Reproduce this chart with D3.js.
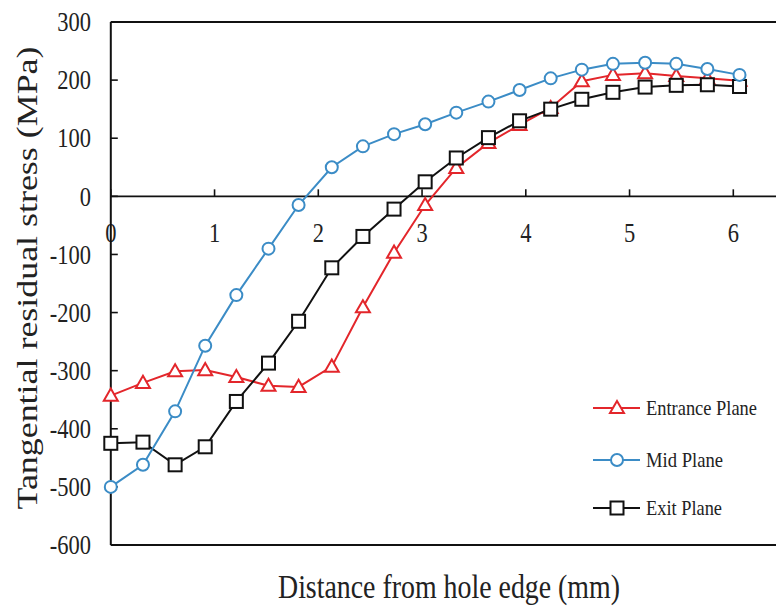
<!DOCTYPE html>
<html>
<head>
<meta charset="utf-8">
<script src="https://cdn.jsdelivr.net/npm/d3@7"></script>
<style>
  body { margin: 0; background: #fff; }
  text { font-family: "Liberation Serif", "DejaVu Serif", serif; fill: #222; }
</style>
</head>
<body>
<div id="chart"></div>
<script>
// distance from hole edge (mm)
var distance = [0, 0.31, 0.62, 0.91, 1.21, 1.52, 1.81, 2.13, 2.43, 2.73, 3.03,
    3.33, 3.64, 3.94, 4.24, 4.54, 4.84, 5.15, 5.45, 5.75, 6.06];
// tangential residual stress (MPa)
var entrancePlane = [-343, -321, -301, -299, -311, -326, -328, -293, -191, -97, -15,
    49, 92, 123, 152, 198, 209, 212, 207, 203, 199];
var midPlane = [-500, -462, -370, -257, -170, -90, -15, 50, 86, 107, 124,
    144, 163, 183, 203, 218, 228, 230, 228, 219, 209];
var exitPlane = [-425, -423, -462, -431, -353, -287, -215, -123, -69, -22, 25,
    66, 101, 130, 150, 167, 179, 188, 191, 192, 189];
var xTicks = [0, 1, 2, 3, 4, 5, 6];
var yTicks = [300, 200, 100, 0, -100, -200, -300, -400, -500, -600];

var width = 776;
var height = 608;

var svg = d3.select("#chart")
    .append("svg")
    .attr("width", width)
    .attr("height", height);

var x = d3.scaleLinear().domain([0, 6]).range([110.8, 733.3]);
var y = d3.scaleLinear().domain([-600, 300]).range([545, 22]);
var xEnd = x(6.6);

// text squeezed like the original picture (taller than wide)
function addText(px, py, str, size, anchor, stretch, len) {
    var t = svg.append("text")
        .attr("transform", "translate(" + px + "," + py + ") scale(1," + stretch + ")")
        .attr("text-anchor", anchor)
        .attr("dominant-baseline", "central")
        .style("font-size", size + "px")
        .text(str);
    if (len) {
        t.attr("textLength", len).attr("lengthAdjust", "spacingAndGlyphs");
    }
    return t;
}

// y tick labels
yTicks.forEach(function (v) {
    addText(91, y(v), String(v), 22.5, "end", 1.2);
});
// x tick labels (below the zero line)
xTicks.forEach(function (v) {
    addText(x(v), 233, String(v), 22.5, "middle", 1.2);
});

// frame
svg.append("line")
    .attr("x1", x(0)).attr("x2", xEnd)
    .attr("y1", y(300)).attr("y2", y(300))
    .style("stroke", "#111").style("stroke-width", 2);
svg.append("line")
    .attr("x1", x(0)).attr("x2", xEnd)
    .attr("y1", y(-600)).attr("y2", y(-600))
    .style("stroke", "#111").style("stroke-width", 2.2);
svg.append("line")
    .attr("x1", x(0)).attr("x2", x(0))
    .attr("y1", y(300)).attr("y2", y(-600))
    .style("stroke", "#111").style("stroke-width", 2);
// zero line
svg.append("line")
    .attr("x1", x(0)).attr("x2", xEnd)
    .attr("y1", y(0)).attr("y2", y(0))
    .style("stroke", "#111").style("stroke-width", 1.6);

// tick marks
yTicks.forEach(function (v) {
    svg.append("line")
        .attr("x1", x(0)).attr("x2", x(0) + 7)
        .attr("y1", y(v)).attr("y2", y(v))
        .style("stroke", "#111").style("stroke-width", 1.6);
});
xTicks.forEach(function (v) {
    svg.append("line")
        .attr("x1", x(v)).attr("x2", x(v))
        .attr("y1", y(0)).attr("y2", y(0) - 7)
        .style("stroke", "#111").style("stroke-width", 1.6);
});

// axis titles
svg.append("text")
    .attr("transform", "translate(37,278) rotate(-90)")
    .attr("text-anchor", "middle")
    .attr("textLength", 463)
    .attr("lengthAdjust", "spacingAndGlyphs")
    .style("font-size", "30px")
    .text("Tangential residual stress (MPa)");
svg.append("text")
    .attr("transform", "translate(449,598) scale(1,1.22)")
    .attr("text-anchor", "middle")
    .attr("textLength", 342)
    .attr("lengthAdjust", "spacingAndGlyphs")
    .style("font-size", "28px")
    .text("Distance from hole edge (mm)");

// series
var series = [
    { name: "Entrance Plane", values: entrancePlane, color: "#e3262b", marker: "triangle", ly: 408, len: 111 },
    { name: "Exit Plane", values: exitPlane, color: "#111111", marker: "square", ly: 508, len: 76 },
    { name: "Mid Plane", values: midPlane, color: "#3b8cc6", marker: "circle", ly: 460, len: 77 }
];

var line = d3.line()
    .x(function (d) { return x(d[0]); })
    .y(function (d) { return y(d[1]); });

function drawMarker(g, type, cx, cy, color) {
    if (type == "circle") {
        g.append("circle")
            .attr("cx", cx).attr("cy", cy).attr("r", 6)
            .style("fill", "#fff").style("stroke", color).style("stroke-width", 2);
    } else if (type == "square") {
        g.append("rect")
            .attr("x", cx - 6.5).attr("y", cy - 6.5)
            .attr("width", 13).attr("height", 13)
            .style("fill", "#fff").style("stroke", color).style("stroke-width", 2);
    } else {
        var tri = d3.symbol().type(d3.symbolTriangle).size(85);
        g.append("path")
            .attr("d", tri())
            .attr("transform", "translate(" + cx + "," + (cy + 1) + ")")
            .style("fill", "#fff").style("stroke", color).style("stroke-width", 2);
    }
}

series.forEach(function (s) {
    var pts = distance.map(function (d, i) { return [d, s.values[i]]; });
    var g = svg.append("g");
    g.append("path")
        .attr("d", line(pts))
        .style("fill", "none")
        .style("stroke", s.color)
        .style("stroke-width", 2);
    pts.forEach(function (p) {
        drawMarker(g, s.marker, x(p[0]), y(p[1]), s.color);
    });

    // legend
    svg.append("line")
        .attr("x1", 593).attr("x2", 640)
        .attr("y1", s.ly).attr("y2", s.ly)
        .style("stroke", s.color).style("stroke-width", 2);
    drawMarker(svg, s.marker, 617, s.ly, s.color);
    addText(646, s.ly, s.name, 18.5, "start", 1.15, s.len);
});
</script>
</body>
</html>
